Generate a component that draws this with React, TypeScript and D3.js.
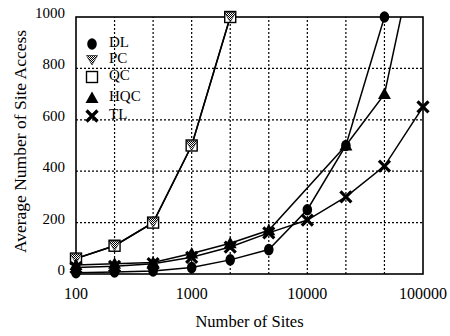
import React, { useRef, useEffect } from "react";
import * as d3 from "d3";

// number of sites (evenly spaced on the chart)
const sites = ["100", "200", "500", "1000", "2000", "5000", "10000", "20000", "50000", "100000"];
const xTickLabels = ["100", "1000", "10000", "100000"];
const yTicks = [0, 200, 400, 600, 800, 1000];

// average number of site access, null = no point
const dlValues = [5, 8, 12, 25, 55, 95, 250, 500, 1000, null];
const pcValues = [60, 110, 200, 500, 1000, null, null, null, null, null];
const qcValues = [60, 110, 200, 500, 1000, null, null, null, null, null];
const hqcValues = [35, 40, 45, 80, 120, 170, null, 500, 700, 1400];
const tlValues = [25, 30, 40, 65, 105, 160, 210, 300, 420, 650];

const seriesNames = ["DL", "PC", "QC", "HQC", "TL"];

function App() {
    const ref = useRef();

    useEffect(() => {
        draw();
    }, []);

    const draw = () => {
        const svg = d3.select(ref.current);
        svg.selectAll("*").remove();

        const margin = { top: 17, right: 27, bottom: 62, left: 76 };
        const svgWidth = 450;
        const svgHeight = 336;
        const font = "'Liberation Serif', 'Times New Roman', serif";

        const x = d3.scalePoint().domain(sites).range([margin.left, svgWidth - margin.right]);
        const y = d3.scaleLinear().domain([0, 1000]).range([svgHeight - margin.bottom, margin.top]);

        const defs = svg.append("defs");
        const pat = defs.append("pattern")
            .attr("id", "checker")
            .attr("width", 2).attr("height", 2)
            .attr("patternUnits", "userSpaceOnUse");
        pat.append("rect").attr("width", 2).attr("height", 2).attr("fill", "white");
        pat.append("rect").attr("width", 1).attr("height", 1).attr("fill", "black");
        pat.append("rect").attr("x", 1).attr("y", 1).attr("width", 1).attr("height", 1).attr("fill", "black");
        defs.append("clipPath").attr("id", "plotclip")
            .append("rect")
            .attr("x", x.range()[0]).attr("y", y(1000))
            .attr("width", x.range()[1] - x.range()[0])
            .attr("height", y(0) - y(1000));

        // grid
        svg.append("g").selectAll("line")
            .data(sites.slice(1, -1))
            .enter().append("line")
            .attr("x1", d => x(d)).attr("x2", d => x(d))
            .attr("y1", y(0)).attr("y2", y(1000))
            .attr("stroke", "black").attr("stroke-width", 1.2)
            .attr("stroke-dasharray", "2,2");
        svg.append("g").selectAll("line")
            .data(yTicks.slice(1, -1))
            .enter().append("line")
            .attr("x1", x.range()[0]).attr("x2", x.range()[1])
            .attr("y1", d => y(d)).attr("y2", d => y(d))
            .attr("stroke", "black").attr("stroke-width", 1.2)
            .attr("stroke-dasharray", "2,2");

        // frame
        svg.append("rect")
            .attr("x", x.range()[0]).attr("y", y(1000))
            .attr("width", x.range()[1] - x.range()[0])
            .attr("height", y(0) - y(1000))
            .attr("fill", "none").attr("stroke", "black").attr("stroke-width", 1.6);

        // tick labels
        svg.append("g").selectAll("text")
            .data(yTicks)
            .enter().append("text")
            .text(d => d)
            .attr("x", 65)
            .attr("y", d => y(d) + 1)
            .attr("text-anchor", "end")
            .attr("font-family", font).attr("font-size", "15px");
        svg.append("g").selectAll("text")
            .data(xTickLabels)
            .enter().append("text")
            .text(d => d)
            .attr("x", d => x(d))
            .attr("y", y(0) + 25)
            .attr("text-anchor", "middle")
            .attr("font-family", font).attr("font-size", "16px");

        // axis titles
        svg.append("text")
            .text("Number of Sites")
            .attr("x", (x.range()[0] + x.range()[1]) / 2)
            .attr("y", 327)
            .attr("text-anchor", "middle")
            .attr("font-family", font).attr("font-size", "16.5px");
        svg.append("text")
            .text("Average Number of Site Access")
            .attr("transform", "translate(26," + ((y(0) + y(1000)) / 2 - 4) + ") rotate(-90)")
            .attr("text-anchor", "middle")
            .attr("font-family", font).attr("font-size", "17.5px");

        // markers
        const marker = (g, name, cx, cy) => {
            if (name === "DL") {
                g.append("ellipse").attr("cx", cx).attr("cy", cy).attr("rx", 4.8).attr("ry", 5.8).attr("fill", "black");
            } else if (name === "PC") {
                g.append("path")
                    .attr("d", `M${cx - 5.5},${cy - 4.5}L${cx + 5.5},${cy - 4.5}L${cx},${cy + 5}Z`)
                    .attr("fill", "url(#checker)").attr("stroke", "black").attr("stroke-width", 0.6);
            } else if (name === "QC") {
                g.append("rect").attr("x", cx - 5.5).attr("y", cy - 5.5).attr("width", 11).attr("height", 11)
                    .attr("fill", "white").attr("stroke", "black").attr("stroke-width", 1.4);
            } else if (name === "HQC") {
                g.append("path")
                    .attr("d", `M${cx},${cy - 6.5}L${cx + 6.5},${cy + 5}L${cx - 6.5},${cy + 5}Z`)
                    .attr("fill", "black");
            } else {
                g.append("path")
                    .attr("d", `M${cx - 5.5},${cy - 5.5}L${cx + 5.5},${cy + 5.5}M${cx + 5.5},${cy - 5.5}L${cx - 5.5},${cy + 5.5}`)
                    .attr("stroke", "black").attr("stroke-width", 3.2).attr("fill", "none");
            }
        };

        const allSeries = [
            { name: "QC", values: qcValues },
            { name: "PC", values: pcValues },
            { name: "TL", values: tlValues },
            { name: "HQC", values: hqcValues },
            { name: "DL", values: dlValues },
        ];

        const line = d3.line()
            .x(d => x(d.s))
            .y(d => y(d.v));

        const plot = svg.append("g").attr("clip-path", "url(#plotclip)");
        allSeries.forEach(s => {
            const pts = sites.map((site, i) => ({ s: site, v: s.values[i] })).filter(d => d.v !== null);
            plot.append("path")
                .attr("d", line(pts))
                .attr("fill", "none").attr("stroke", "black").attr("stroke-width", 1.5);
        });
        allSeries.forEach(s => {
            const g = svg.append("g");
            sites.forEach((site, i) => {
                const v = s.values[i];
                if (v !== null && v <= 1000) marker(g, s.name, x(site), y(v));
            });
        });

        // legend
        const legendY = [42, 58, 75, 96, 114];
        const lg = svg.append("g");
        seriesNames.forEach((name, i) => {
            marker(lg, name, 92, legendY[i] + 2);
            lg.append("text")
                .text(name)
                .attr("x", 109)
                .attr("y", legendY[i] + 5)
                .attr("font-family", font).attr("font-size", "15px");
        });
    };

    return (
        <div className="chart">
            <svg ref={ref} width={450} height={336} style={{ position: "absolute", left: 0, top: 0, background: "white" }}></svg>
        </div>
    );
}

export default App;
